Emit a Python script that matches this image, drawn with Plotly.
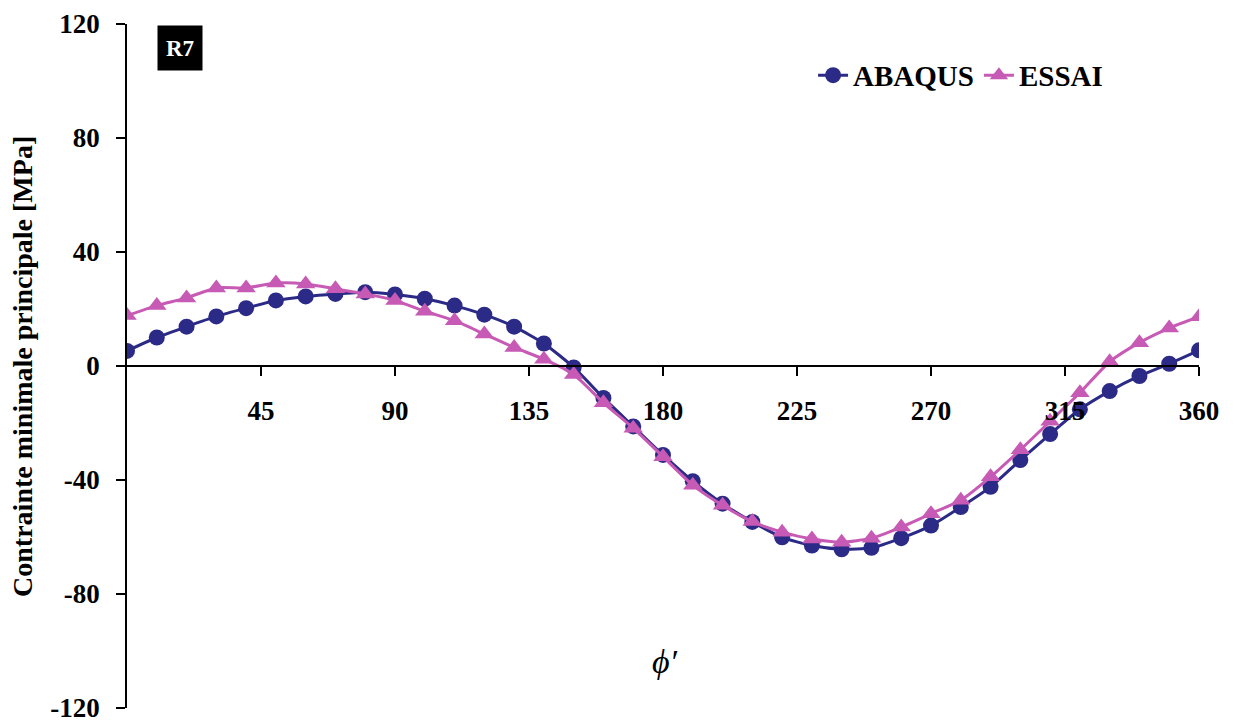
import plotly.graph_objects as go

# angle phi' in degrees
phi = list(range(0, 361, 10))

abaqus = [5.3, 10.0, 13.8, 17.4, 20.3, 23.0, 24.4, 25.3, 25.9, 25.1,
          23.6, 21.2, 18.0, 13.8, 7.9, -0.5, -11.2, -21.2, -31.2, -40.4,
          -48.3, -54.7, -60.1, -63.0, -64.3, -63.8, -60.4, -56.0, -49.5, -42.4,
          -33.0, -23.9, -15.2, -8.8, -3.5, 0.8, 5.5]

essai = [17.7, 21.2, 23.9, 27.4, 27.4, 29.1, 28.8, 27.1, 25.3, 23.0,
         19.2, 15.9, 11.2, 6.5, 2.4, -3.0, -12.9, -21.8, -31.8, -41.8,
         -48.9, -54.6, -58.3, -60.7, -61.8, -60.4, -56.5, -51.8, -47.1, -38.9,
         -29.4, -19.4, -9.4, 1.5, 8.2, 13.3, 17.3]

x_ticks = [45, 90, 135, 180, 225, 270, 315, 360]
y_ticks = [-120, -80, -40, 0, 40, 80, 120]

NAVY = '#2b2a86'
PINK = '#c75ab4'
FONT = "Liberation Serif, Times New Roman, serif"

fig = go.Figure()

fig.add_trace(go.Scatter(
    x=phi, y=abaqus, mode='lines+markers', name='ABAQUS',
    line=dict(color=NAVY, width=3, shape='spline', smoothing=0.6),
    marker=dict(symbol='circle', size=16, color=NAVY),
))

fig.add_trace(go.Scatter(
    x=phi, y=essai, mode='lines+markers', name='ESSAI',
    line=dict(color=PINK, width=3, shape='spline', smoothing=0.6),
    marker=dict(symbol='triangle-up', size=17, color=PINK),
))

# invisible trace just to carry the x axis drawn through y = 0
fig.add_trace(go.Scatter(x=[0, 360], y=[0, 0], xaxis='x2', mode='lines',
                         line=dict(width=0), showlegend=False, hoverinfo='skip'))

# page body has an 8px margin, margins below account for it
fig.update_layout(
    width=1234, height=722,
    paper_bgcolor='white', plot_bgcolor='white',
    font=dict(family=FONT, size=22, color='black'),
    margin=dict(l=119, r=43, t=16, b=22, autoexpand=False),
    showlegend=True,
    legend=dict(
        orientation='h', x=0.64, y=0.925, xanchor='left', yanchor='middle',
        font=dict(family=FONT, size=29, color='black', weight='bold'),
        bgcolor='rgba(0,0,0,0)', itemwidth=30, tracegroupgap=0,
    ),
    xaxis=dict(range=[0, 360], visible=False, showgrid=False, zeroline=False),
    xaxis2=dict(
        range=[0, 360], overlaying='x', anchor='free', position=0.5, side='bottom',
        showline=True, linecolor='black', linewidth=1.5,
        ticks='outside', ticklen=9, tickwidth=1.5, tickcolor='black',
        tickvals=x_ticks, ticktext=[str(v) for v in x_ticks],
        tickfont=dict(family=FONT, size=27, color='black', weight='bold'),
        ticklabelstandoff=12,
        showgrid=False, zeroline=False,
    ),
    yaxis=dict(
        range=[-120, 120], showline=True, linecolor='black', linewidth=1.5,
        ticks='outside', ticklen=9, tickwidth=1.5, tickcolor='black',
        tickvals=y_ticks, ticktext=[str(v) for v in y_ticks],
        tickfont=dict(family=FONT, size=27, color='black', weight='bold'),
        ticklabelstandoff=11, automargin=False,
        showgrid=False, zeroline=False,
    ),
)

# y axis title
fig.add_annotation(
    text='<b>Contrainte minimale principale [MPa]</b>', xref='paper', yref='paper',
    x=-0.098, y=0.5, textangle=-90, showarrow=False,
    xanchor='center', yanchor='middle',
    font=dict(family=FONT, size=28, color='black'),
)

# panel tag
fig.add_annotation(
    text='<b>R7</b>', xref='paper', yref='paper', x=0.049, y=0.965,
    xanchor='center', yanchor='middle', showarrow=False,
    font=dict(family=FONT, size=23, color='white'),
    bgcolor='black', width=30, height=30, borderpad=7,
)

# x axis title
fig.add_annotation(
    text="<i>ϕ′</i>", xref='paper', yref='paper', x=0.502, y=0.068,
    xanchor='center', yanchor='middle', showarrow=False,
    font=dict(family=FONT, size=34, color='black'),
)

fig.write_html("out.html")
